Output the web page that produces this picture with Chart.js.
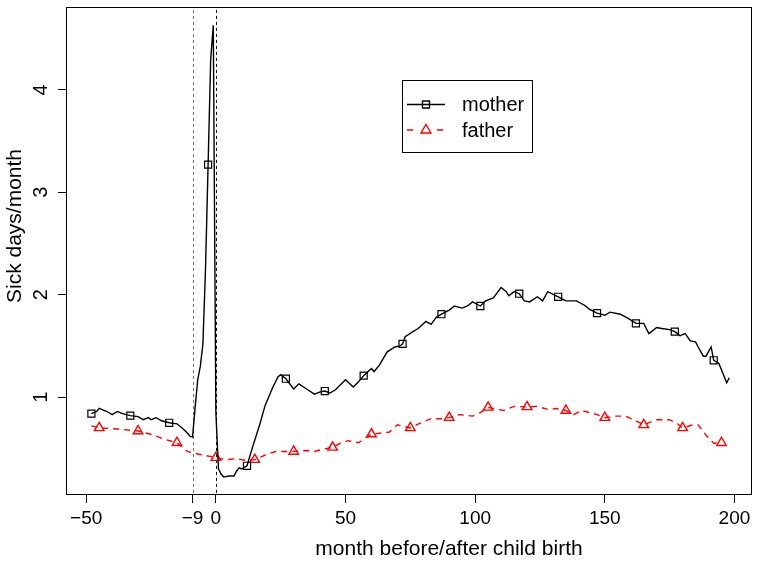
<!DOCTYPE html>
<html>
<head>
<meta charset="utf-8">
<script src="https://cdn.jsdelivr.net/npm/chart.js@4/dist/chart.umd.min.js"></script>
<style>
  html, body { margin: 0; padding: 0; background: #fff; }
  #c { display: block; }
</style>
</head>
<body>
<canvas id="c" width="759" height="561"></canvas>
<script>
// ---- data ----
const motherMonths = [-48,-46,-45,-42,-40,-38,-36,-33,-30,-28,-26,-25,-23,-21,-18,-15,-13,-11,-10,-9,-8,-7,-6,-5,-4,-3,-2,-1,0,1,2,3,5,7,8,9,10,12,14,17,19,22,24,25,27,30,32,35,38,40,42,44,46,50,53,55,57,60,61,63,66,69,71,72,73,76,78,81,83,85,87,90,92,95,97,99,102,104,107,110,112,113,115,117,119,121,124,126,128,132,135,139,142,144,147,150,152,156,159,162,165,167,170,172,175,177,179,181,183,185,186,188,189,191,192,194,197,198];
const motherValues = [0.84,0.86,0.89,0.86,0.83,0.86,0.84,0.82,0.81,0.78,0.80,0.78,0.80,0.77,0.75,0.74,0.70,0.65,0.62,0.61,0.90,1.17,1.30,1.52,2.25,3.27,4.30,4.63,0.85,0.30,0.25,0.22,0.23,0.23,0.28,0.31,0.30,0.33,0.50,0.74,0.92,1.10,1.20,1.22,1.18,1.08,1.13,1.08,1.03,1.05,1.06,1.04,1.07,1.17,1.10,1.15,1.21,1.28,1.25,1.31,1.44,1.49,1.50,1.52,1.59,1.64,1.67,1.74,1.71,1.78,1.81,1.85,1.89,1.87,1.89,1.93,1.89,1.94,1.97,2.07,2.03,1.99,2.03,2.01,1.94,1.93,1.98,1.94,2.03,1.98,1.94,1.94,1.90,1.86,1.82,1.80,1.83,1.81,1.77,1.72,1.72,1.62,1.68,1.67,1.66,1.64,1.60,1.62,1.55,1.54,1.49,1.40,1.40,1.49,1.36,1.33,1.14,1.19];
const motherMarkerMonths = [-48,-33,-18,-3,12,27,42,57,72,87,102,117,132,147,162,177,192];

const fatherMonths = [-48,-45,-38,-30,-24,-20,-15,-11,-7,0,4,8,12,15,19,23,25,30,35,38,41,45,48,51,55,60,64,67,70,75,79,83,87,90,94,99,102,105,111,115,120,124,128,131,135,138,141,144,147,150,154,158,161,165,170,175,178,180,184,186,189,192,195];
const fatherValues = [0.72,0.70,0.69,0.67,0.63,0.59,0.555,0.47,0.445,0.41,0.39,0.40,0.38,0.39,0.435,0.47,0.47,0.47,0.48,0.47,0.49,0.51,0.55,0.575,0.555,0.64,0.65,0.66,0.73,0.70,0.75,0.79,0.79,0.80,0.83,0.815,0.85,0.90,0.87,0.91,0.905,0.91,0.88,0.89,0.87,0.83,0.87,0.85,0.83,0.80,0.815,0.815,0.78,0.73,0.78,0.78,0.74,0.70,0.73,0.73,0.63,0.55,0.555];
const fatherMarkerMonths = [-45,-30,-15,0,15,30,45,60,75,90,105,120,135,150,165,180,195];

const xTickValues = [-50, -9, 0, 50, 100, 150, 200];
const xTickLabels = ['\u221250', '\u22129', '0', '50', '100', '150', '200'];
const yTickValues = [1, 2, 3, 4];
const yTickLabels = ['1', '2', '3', '4'];
const refLineMonths = [-9, 0];
const seriesNames = ['mother', 'father'];
const xTitle = 'month before/after child birth';
const yTitle = 'Sick days/month';

// ---- chart ----
const FONT = '"Liberation Sans", Arial, Helvetica, sans-serif';
const toPts = (xs, ys) => xs.map((x, i) => ({ x: x, y: ys[i] }));
const mSet = new Set(motherMarkerMonths);
const fSet = new Set(fatherMarkerMonths);

const framePlugin = {
  id: 'frame',
  beforeDatasetsDraw(chart) {
    const { ctx, chartArea: a, scales } = chart;
    const xs = scales.x;
    ctx.save();
    ctx.lineWidth = 1;
    ctx.setLineDash([3, 3]);
    refLineMonths.forEach((m, i) => {
      const px = Math.round(xs.getPixelForValue(m)) + 0.5;
      ctx.strokeStyle = i === 0 ? '#6e6e6e' : '#000';
      ctx.beginPath();
      ctx.moveTo(px, a.top + 3);
      ctx.lineTo(px, a.bottom);
      ctx.stroke();
    });
    ctx.restore();
  },
  afterDraw(chart) {
    const { ctx, chartArea: a, scales } = chart;
    ctx.save();
    // box
    ctx.strokeStyle = '#000';
    ctx.lineWidth = 1;
    ctx.strokeRect(Math.round(a.left) + 0.5, Math.round(a.top) + 0.5,
                   Math.round(a.right - a.left) - 1, Math.round(a.bottom - a.top) - 1);
    // rotated y tick labels
    ctx.fillStyle = '#000';
    ctx.font = '20px ' + FONT;
    ctx.textAlign = 'center';
    ctx.textBaseline = 'middle';
    yTickValues.forEach((v, i) => {
      const py = scales.y.getPixelForValue(v);
      ctx.save();
      ctx.translate(41, py);
      ctx.rotate(-Math.PI / 2);
      ctx.fillText(yTickLabels[i], 0, 0);
      ctx.restore();
    });
    // axis titles
    ctx.font = '21px ' + FONT;
    ctx.fillText(xTitle, 449, 549);
    ctx.save();
    ctx.translate(15, 226);
    ctx.rotate(-Math.PI / 2);
    ctx.fillText(yTitle, 0, 0);
    ctx.restore();
    // legend
    const bx = 402.5, by = 80.5, bw = 130, bh = 72;
    ctx.strokeStyle = '#000';
    ctx.lineWidth = 1;
    ctx.strokeRect(bx, by, bw, bh);
    const rows = [
      { y: 104.5, color: '#000', dash: [], shape: 'rect' },
      { y: 130, color: '#ff0000', dash: [6, 5], shape: 'tri' }
    ];
    rows.forEach((r, i) => {
      ctx.strokeStyle = r.color;
      ctx.lineWidth = 1.4;
      ctx.setLineDash(r.dash);
      ctx.beginPath();
      if (r.shape === 'rect') {
        ctx.moveTo(407, r.y); ctx.lineTo(445, r.y);
      } else {
        ctx.moveTo(407, r.y); ctx.lineTo(415, r.y);
        ctx.moveTo(437, r.y); ctx.lineTo(445, r.y);
      }
      ctx.stroke();
      ctx.setLineDash([]);
      const cx = 426;
      ctx.fillStyle = '#fff';
      ctx.beginPath();
      if (r.shape === 'rect') {
        ctx.rect(cx - 3.5, r.y - 3.5, 7, 7);
      } else {
        ctx.moveTo(cx, r.y - 5.5);
        ctx.lineTo(cx + 5, r.y + 3);
        ctx.lineTo(cx - 5, r.y + 3);
        ctx.closePath();
      }
      if (r.shape === 'tri') ctx.fill();
      ctx.stroke();
      ctx.fillStyle = '#000';
      ctx.textAlign = 'left';
      ctx.textBaseline = 'middle';
      ctx.font = '20px ' + FONT;
      ctx.fillText(seriesNames[i], 462, r.y + 1);
    });
    ctx.restore();
  }
};

new Chart(document.getElementById('c'), {
  type: 'scatter',
  data: {
    datasets: [
      {
        label: seriesNames[0],
        data: toPts(motherMonths, motherValues),
        showLine: true,
        borderColor: '#000',
        borderWidth: 1.4,
        tension: 0,
        pointStyle: 'rect',
        pointRadius: c => (c.raw && mSet.has(c.raw.x)) ? 5 : 0,
        pointBorderColor: '#000',
        pointBackgroundColor: 'rgba(0,0,0,0)',
        pointBorderWidth: 1.2,
        pointHoverRadius: 0
      },
      {
        label: seriesNames[1],
        data: toPts(fatherMonths, fatherValues),
        showLine: true,
        borderColor: '#ff0000',
        borderWidth: 1.4,
        borderDash: [6, 5],
        tension: 0,
        pointStyle: 'triangle',
        pointRadius: c => (c.raw && fSet.has(c.raw.x)) ? 5.5 : 0,
        pointBorderColor: '#ff0000',
        pointBackgroundColor: 'rgba(0,0,0,0)',
        pointBorderWidth: 1.4,
        pointHoverRadius: 0
      }
    ]
  },
  options: {
    responsive: false,
    animation: false,
    devicePixelRatio: 1,
    layout: { padding: { top: 6, right: 2, left: 0, bottom: 0 } },
    plugins: { legend: { display: false }, tooltip: { enabled: false } },
    scales: {
      x: {
        type: 'linear',
        min: -57.8,
        max: 206.8,
        afterBuildTicks: s => { s.ticks = xTickValues.map(v => ({ value: v })); },
        afterFit: s => { s.height = 66; },
        ticks: {
          autoSkip: false,
          maxRotation: 0,
          padding: 4,
          color: '#000',
          font: { family: FONT, size: 19 },
          callback: (v) => { const i = xTickValues.indexOf(v); return i >= 0 ? xTickLabels[i] : ''; }
        },
        grid: { drawOnChartArea: false, drawTicks: true, tickLength: 8, color: '#000', lineWidth: 1 },
        border: { display: false },
        title: { display: false }
      },
      y: {
        type: 'linear',
        min: 0.045,
        max: 4.81,
        afterBuildTicks: s => { s.ticks = yTickValues.map(v => ({ value: v })); },
        afterFit: s => { s.width = 66; },
        ticks: { display: false },
        grid: { drawOnChartArea: false, drawTicks: true, tickLength: 8, color: '#000', lineWidth: 1 },
        border: { display: false },
        title: { display: false }
      }
    }
  },
  plugins: [framePlugin]
});
</script>
</body>
</html>
